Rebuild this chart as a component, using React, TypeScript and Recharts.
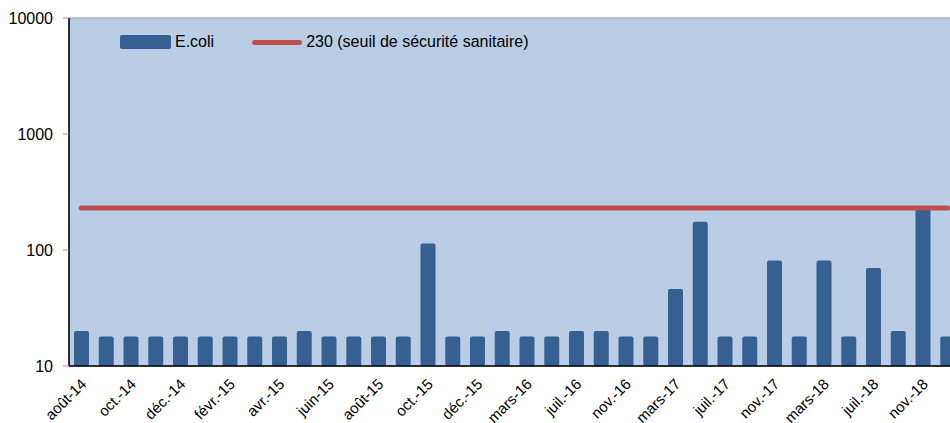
import React from 'react';
import { ComposedChart, Bar, Line, XAxis, YAxis } from 'recharts';

// sampling dates (one label shown out of two)
const months = [
  'août-14', 'sept.-14', 'oct.-14', 'nov.-14', 'déc.-14', 'janv.-15', 'févr.-15', 'mars-15',
  'avr.-15', 'mai-15', 'juin-15', 'juil.-15', 'août-15', 'sept.-15', 'oct.-15', 'nov.-15',
  'déc.-15', 'févr.-16', 'mars-16', 'mai-16', 'juil.-16', 'sept.-16', 'nov.-16', 'janv.-17',
  'mars-17', 'mai-17', 'juil.-17', 'sept.-17', 'nov.-17', 'janv.-18', 'mars-18', 'mai-18',
  'juil.-18', 'sept.-18', 'nov.-18', 'janv.-19',
];

const ecoli = [
  20, 18, 18, 18, 18, 18, 18, 18, 18, 20, 18, 18, 18, 18, 114, 18,
  18, 20, 18, 18, 20, 20, 18, 18, 46, 175, 18, 18, 81, 18, 81, 18,
  70, 20, 230, 18,
];

const seuil = 230;
const yTicks = [10, 100, 1000, 10000];
const boundaryTicks = Array.from({ length: months.length + 1 }, (_, i) => i);

const BLUE = '#376092';
const RED = '#C0504D';

const data = months.map((m, i) => ({ month: m, ecoli: ecoli[i], seuil, pos: i + 0.5 }));

const MonthTick = (props: any) => {
  const { x, payload } = props;
  // anchor just under the axis line
  const y0 = props.y - (props.tickSize ?? 6) - 2;
  return (
    <g transform={`translate(${x + 6},${y0 + 19})`}>
      <text x={0} y={0} textAnchor="end" transform="rotate(-45)" fontSize={15} fill="#000">
        {payload.value}
      </text>
    </g>
  );
};

const LegendBox = () => (
  <div style={{ position: 'absolute', left: 120, top: 33, display: 'flex', alignItems: 'center', fontSize: 16, color: '#000', whiteSpace: 'nowrap' }}>
    <div style={{ width: 51, height: 14, background: BLUE, borderRadius: 2 }} />
    <span style={{ marginLeft: 4 }}>E.coli</span>
    <div style={{ width: 50, height: 5, background: RED, borderRadius: 3, marginLeft: 38 }} />
    <span style={{ marginLeft: 4 }}>230 (seuil de sécurité sanitaire)</span>
  </div>
);

const App: React.FC = () => {
  return (
    <div style={{ position: 'absolute', left: 0, top: 0, width: 950, height: 423, overflow: 'hidden', background: '#fff', fontFamily: '"Liberation Sans", Arial, sans-serif' }}>
      <ComposedChart
        width={970}
        height={423}
        data={data}
        margin={{ top: 18, right: 10, bottom: 0, left: 0 }}
      >
        <rect x={69} y={18} width={900} height={348} fill="#B9CDE5" stroke="#999" strokeWidth={1} />
        <XAxis
          xAxisId="grid"
          type="number"
          dataKey="pos"
          domain={[0, months.length]}
          ticks={boundaryTicks}
          axisLine={false}
          tickLine={{ stroke: '#999' }}
          tickSize={6}
          tickFormatter={() => ''}
          height={0}
        />
        <XAxis
          dataKey="month"
          xAxisId="cat"
          interval={1}
          height={57}
          axisLine={{ stroke: '#000', strokeWidth: 1.5 }}
          tickLine={false}
          tickSize={6}
          tick={<MonthTick />}
        />
        <YAxis
          scale="log"
          domain={[10, 10000]}
          ticks={yTicks}
          width={69}
          allowDataOverflow
          axisLine={{ stroke: '#000', strokeWidth: 1.5 }}
          tickLine={{ stroke: '#999' }}
          tickSize={6}
          tickMargin={10}
          tick={{ fill: '#000', fontSize: 16 }}
        />
        <Bar
          xAxisId="cat"
          dataKey="ecoli"
          name="E.coli"
          fill={BLUE}
          barSize={15}
          radius={2}
          isAnimationActive={false}
        />
        <Line
          xAxisId="cat"
          dataKey="seuil"
          name="230 (seuil de sécurité sanitaire)"
          stroke={RED}
          strokeWidth={5}
          strokeLinecap="round"
          dot={false}
          activeDot={false}
          isAnimationActive={false}
        />
      </ComposedChart>
      <LegendBox />
    </div>
  );
};

export default App;
